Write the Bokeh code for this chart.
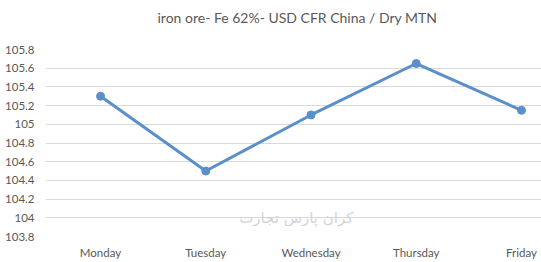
from bokeh.plotting import figure
from bokeh.models import Range1d, FixedTicker, Label, Title
from bokeh.embed import file_html
from bokeh.resources import INLINE

days = ["Monday", "Tuesday", "Wednesday", "Thursday", "Friday"]
prices = [105.3, 104.5, 105.1, 105.65, 105.15]
y_ticks = [103.8, 104.0, 104.2, 104.4, 104.6, 104.8, 105.0, 105.2, 105.4, 105.6, 105.8]
title_text = "iron ore- Fe 62%- USD CFR China / Dry MTN"
watermark = "کران پارس تجارت"

xs = list(range(len(days)))

p = figure(width=541, height=262, output_backend="svg", toolbar_location=None,
           x_range=Range1d(-0.523, 4.19), y_range=Range1d(103.8, 105.8),
           min_border_left=45, min_border_right=0, min_border_top=49, min_border_bottom=26)
p.outline_line_color = None
p.background_fill_color = "white"
p.border_fill_color = "white"

p.title.text = title_text
p.title.align = "left"
p.title.offset = 112
p.title.text_font = "Lato"
p.title.text_font_size = "14px"
p.title.text_font_style = "normal"
p.title.text_color = "#595959"
p.title.standoff = 4

spacer = Title(text=" ", text_font_size="18px", standoff=0)
p.add_layout(spacer, "above")

# axes
p.xaxis.ticker = FixedTicker(ticks=xs)
p.xaxis.major_label_overrides = {i: d for i, d in enumerate(days)}
p.yaxis.ticker = FixedTicker(ticks=y_ticks)
p.yaxis.major_label_overrides = {t: ("%g" % t) for t in y_ticks}
for ax in (p.xaxis[0], p.yaxis[0]):
    ax.axis_line_color = None
    ax.major_tick_line_color = None
    ax.minor_tick_line_color = None
    ax.major_tick_out = 0
    ax.major_tick_in = 0
    ax.major_label_text_font = "Lato"
    ax.major_label_text_font_size = "11.5px"
    ax.major_label_text_color = "#595959"
p.yaxis.major_label_standoff = 11
p.xaxis.major_label_standoff = 9

p.xgrid.grid_line_color = None
p.ygrid.ticker = FixedTicker(ticks=y_ticks)
p.ygrid.grid_line_color = "#d9d9d9"
p.ygrid.grid_line_width = 1

# watermark text
wm = Label(x=1.86, y=104.0, text=watermark, text_align="center", text_baseline="middle",
           text_font="DejaVu Sans", text_font_size="15px", text_color="#c8ccd4", text_alpha=0.85)
p.add_layout(wm)

p.line(xs, prices, line_color="#5b8fc9", line_width=3)
p.scatter(xs, prices, size=8, fill_color="#5b8fc9", line_color="#5b8fc9")

open("out.html", "w").write(file_html(p, INLINE))
